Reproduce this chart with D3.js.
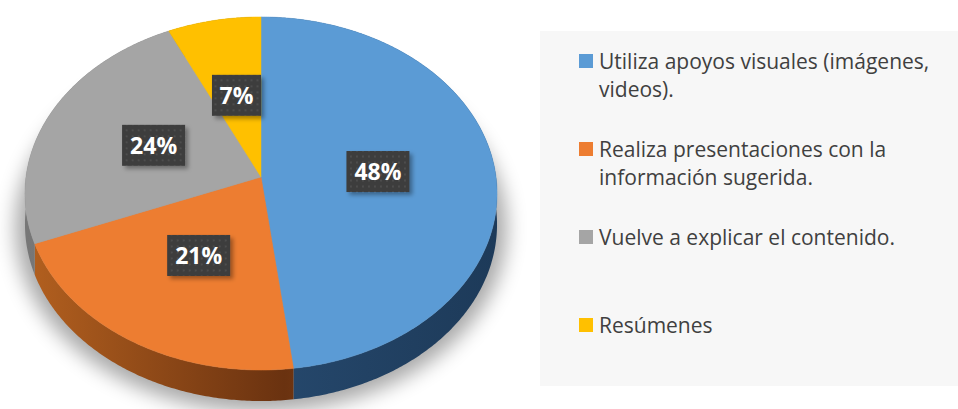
<!DOCTYPE html>
<html>
<head>
<meta charset="utf-8">
<script src="https://cdn.jsdelivr.net/npm/d3@7"></script>
<style>
  body { margin: 0; background: #fff; }
  svg { display: block; }
</style>
</head>
<body>
<div id="chart"></div>
<script>
// chart data
const categories = [
  "Utiliza apoyos visuales (imágenes, videos).",
  "Realiza presentaciones con la información sugerida.",
  "Vuelve a explicar el contenido.",
  "Resúmenes"
];
const legendLines = [
  ["Utiliza apoyos visuales (imágenes,", "videos)."],
  ["Realiza presentaciones con la", "información sugerida."],
  ["Vuelve a explicar el contenido."],
  ["Resúmenes"]
];
const values = [48, 21, 24, 7];
const labels = ["48%", "21%", "24%", "7%"];
const colors = ["#5b9bd5", "#ed7d31", "#a5a5a5", "#ffc000"];
const sideColors = [["#1d3a59", "#25476b"], ["#b3601f", "#6a3210"], ["#777777", "#666666"], ["#a37b00", "#8a6800"]];

const width = 958, height = 409;

// pie geometry (a tilted disk seen with a little perspective)
const cx = 261, cy = 177, A = 235, B = 175, k = 0.0934, depth = 31;

function proj(a, r, dy) {
    var u = r * Math.sin(a), v = -r * Math.cos(a);
    var den = 1 - k * v;
    return [cx + A * u / den, cy + B * v / den + (dy || 0)];
}

const svg = d3.select("#chart")
    .append("svg")
    .attr("width", width)
    .attr("height", height);

const defs = svg.append("defs");
defs.append("filter").attr("id", "soft")
    .attr("x", "-20%").attr("y", "-20%").attr("width", "140%").attr("height", "140%")
    .append("feGaussianBlur").attr("stdDeviation", 10);
const ds = defs.append("filter").attr("id", "boxshadow")
    .attr("x", "-30%").attr("y", "-30%").attr("width", "160%").attr("height", "160%");
ds.append("feDropShadow").attr("dx", 3).attr("dy", 3).attr("stdDeviation", 2)
    .attr("flood-color", "#000").attr("flood-opacity", 0.35);
const pat = defs.append("pattern").attr("id", "dots")
    .attr("width", 6).attr("height", 6).attr("patternUnits", "userSpaceOnUse");
pat.append("rect").attr("width", 6).attr("height", 6).attr("fill", "#3c3c3c");
pat.append("rect").attr("x", 2).attr("y", 2).attr("width", 2).attr("height", 2).attr("fill", "#4d4d4d");

sideColors.forEach((c, i) => {
    var g = defs.append("linearGradient").attr("id", "side" + i)
        .attr("gradientUnits", "userSpaceOnUse")
        .attr("x1", cx - A).attr("x2", cx + A).attr("y1", 0).attr("y2", 0);
    g.append("stop").attr("offset", "0%").attr("stop-color", c[0]);
    g.append("stop").attr("offset", "55%").attr("stop-color", c[1]);
    g.append("stop").attr("offset", "100%").attr("stop-color", c[0]);
});

// legend panel
svg.append("rect")
    .attr("x", 540).attr("y", 31)
    .attr("width", width - 540).attr("height", 355)
    .attr("fill", "#f7f7f7");

const pie = d3.pie().sort(null).value(d => d);
const arcs = pie(values);
const line = d3.line();

function arcPoints(a0, a1, r, dy) {
    var n = Math.max(2, Math.ceil((a1 - a0) / 0.01));
    return d3.range(n + 1).map(i => proj(a0 + (a1 - a0) * i / n, r, dy));
}

// soft shadow under the pie
svg.append("path")
    .attr("d", line(arcPoints(0, 2 * Math.PI, 1.04, depth + 2)) + "Z")
    .attr("fill", "#000")
    .attr("opacity", 0.34)
    .attr("filter", "url(#soft)");

// outer walls
svg.append("g")
    .selectAll("path")
    .data(arcs)
    .join("path")
    .attr("d", d => {
        var top = arcPoints(d.startAngle, d.endAngle, 1, 0);
        var bot = arcPoints(d.startAngle, d.endAngle, 1, depth).reverse();
        return line(top.concat(bot)) + "Z";
    })
    .attr("fill", (d, i) => "url(#side" + i + ")");

// top faces
svg.append("g")
    .selectAll("path")
    .data(arcs)
    .join("path")
    .attr("d", d => line([[cx, cy]].concat(arcPoints(d.startAngle, d.endAngle, 1, 0))) + "Z")
    .attr("fill", (d, i) => colors[i])
    .attr("stroke", (d, i) => colors[i])
    .attr("stroke-width", 0.5);

// data labels
const lab = svg.append("g")
    .selectAll("g")
    .data(arcs)
    .join("g")
    .attr("transform", d => {
        var p = proj((d.startAngle + d.endAngle) / 2, 0.5, 0);
        return `translate(${p[0]},${p[1]})`;
    });
lab.each(function (d, i) {
    var g = d3.select(this);
    var w = labels[i].length > 2 ? 63 : 49;
    g.append("rect")
        .attr("x", -w / 2).attr("y", -20.5)
        .attr("width", w).attr("height", 41)
        .attr("fill", "url(#dots)")
        .attr("filter", "url(#boxshadow)");
    g.append("text")
        .attr("text-anchor", "middle")
        .attr("y", 8.5)
        .attr("fill", "#fff")
        .style("font-family", "'Open Sans', sans-serif")
        .style("font-weight", "700")
        .style("font-size", "23px")
        .text(labels[i]);
});

// legend
const leg = svg.append("g")
    .selectAll("g")
    .data(categories)
    .join("g")
    .attr("transform", (d, i) => `translate(579,${69 + i * 88})`);
leg.append("rect")
    .attr("x", 0).attr("y", -15)
    .attr("width", 14).attr("height", 14)
    .attr("fill", (d, i) => colors[i]);
leg.append("text")
    .attr("x", 20)
    .attr("fill", "#404040")
    .style("font-family", "'Open Sans', sans-serif")
    .style("font-size", "21px")
    .selectAll("tspan")
    .data((d, i) => legendLines[i])
    .join("tspan")
    .attr("x", 20)
    .attr("y", (d, j) => j * 28)
    .text(d => d);
</script>
</body>
</html>
